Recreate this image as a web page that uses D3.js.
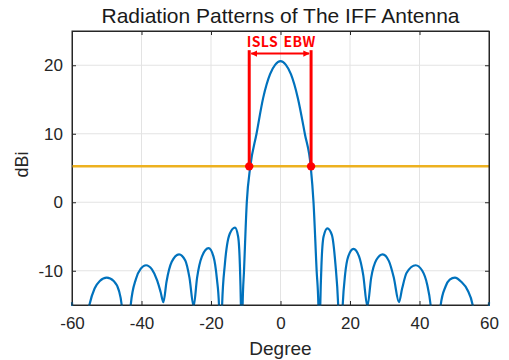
<!DOCTYPE html>
<meta charset="utf-8">
<style type="text/css">
body { margin: 0; background: #fff; }
.grid line { stroke: #e3e3e3; stroke-width: 1; }
.axis text { font-family: "Liberation Sans", Arial, sans-serif; font-size: 17px; fill: #262626; }
.axis path, .axis line { stroke: #262626; }
.pattern { fill: none; stroke: #0072bd; stroke-width: 2.2; }
.thresh { stroke: #edb120; stroke-width: 2.5; }
.ebw { stroke: #ff0000; stroke-width: 3; }
</style>
<body>
</body>
<script src="https://d3js.org/d3.v7.min.js"></script>
<script>

// Radiation pattern (degree, dBi); nulls below the axis get clipped
var degrees = [-60, -58, -55, -53.5, -52, -50, -48, -46.5, -45.7, -44.4,
  -43.1, -41.6, -40.2, -38.7, -37, -35.5, -34.5, -33.7,
  -32.8, -31.3, -29.2, -27.4, -26.2, -25,
  -24, -22.6, -20.7, -19.3, -18.3, -17.7, -17.3,
  -16.8, -16, -14.6, -13.1, -12.2, -11.7, -11.4, -11.15,
  -10.9, -10.5, -9.7, -8.7, -6.9, -5, -3, -1.5, 0,
  1.5, 3, 5, 7, 8.7, 9.5, 10.4, 10.9, 11.15,
  11.45, 11.8, 12.4, 13.5, 14.8, 15.8, 16.6, 17.2,
  17.9, 18.6, 19.5, 21, 22.6, 23.8, 25,
  26.1, 27.6, 29.4, 31.2, 32.6, 34.1,
  35, 36.3, 38.9, 40.8, 42.2, 43.2, 44.6,
  46.1, 47.5, 48.7, 50.2, 52, 53.8, 55.3, 57.6, 59.6, 60];
var dbi = [-14.6, -25, -15, -12.6, -11.5, -11.0, -11.5, -12.9, -15, -25,
  -15, -11.2, -9.7, -9.2, -9.8, -11.4, -13.1, -14.6,
  -11.6, -8.7, -7.6, -8.5, -11, -15.2,
  -11, -7.9, -6.7, -7.9, -11.2, -15, -25,
  -15, -9, -4.6, -3.7, -5, -9, -15, -25,
  -15, -10, 0, 5.2, 10, 15.2, 18.7, 20.1, 20.6,
  20.1, 18.7, 15.2, 10, 5.2, 0, -10, -15, -25,
  -15, -9, -5, -3.8, -4.8, -9, -15, -25,
  -15, -10.5, -7.9, -6.8, -7.9, -10.6, -15.2,
  -11, -8.4, -7.6, -8.6, -11, -14.6,
  -12.6, -10.3, -9.2, -10, -12, -15, -25,
  -15, -12.3, -11.3, -11.0, -11.6, -12.8, -15, -25, -20, -14.6];

var xTicks = [-60, -40, -20, 0, 20, 40, 60];
var yTicks = [-10, 0, 10, 20];
var threshold = 5.24;          // orange level
var ebwEdges = [-9.0, 8.8];    // red marker positions
var ebwTop = 22.2;
var arrowLevel = 21.7;

var margin = {top: 31, right: 20, bottom: 55, left: 72}
  , width = 509 - margin.left - margin.right
  , height = 360 - margin.top - margin.bottom;

var svg = d3.select("body").append("svg")
    .attr("width", 509)
    .attr("height", 360)
  .append("g")
    .attr("transform", "translate(" + margin.left + "," + margin.top + ")");

var xScale = d3.scaleLinear().domain([-60, 60]).range([0, width]);
var yScale = d3.scaleLinear().domain([-15, 25]).range([height, 0]);

var defs = svg.append("defs");
defs.append("clipPath").attr("id", "plotclip")
  .append("rect").attr("x", -2).attr("width", width + 4).attr("height", height + 1);
defs.append("marker").attr("id", "ah")
    .attr("viewBox", "0 0 10 10").attr("refX", 9).attr("refY", 5)
    .attr("markerWidth", 3.2).attr("markerHeight", 3.2)
    .attr("orient", "auto-start-reverse")
  .append("path").attr("d", "M0,0L10,5L0,10z").attr("fill", "#ff0000");

// grid
svg.append("g").attr("class", "grid")
  .selectAll("line").data(xTicks.slice(1, -1)).enter().append("line")
    .attr("x1", function(d) { return xScale(d); }).attr("x2", function(d) { return xScale(d); })
    .attr("y1", 0).attr("y2", height);
svg.append("g").attr("class", "grid")
  .selectAll("line").data(yTicks).enter().append("line")
    .attr("y1", function(d) { return yScale(d); }).attr("y2", function(d) { return yScale(d); })
    .attr("x1", 0).attr("x2", width);

// axes, ticks pointing inward like matlab, plain hyphen minus
var fmt = function(d) { return String(d); };
svg.append("g").attr("class", "axis")
    .attr("transform", "translate(0," + height + ")")
    .call(d3.axisBottom(xScale).tickValues(xTicks).tickFormat(fmt).tickSizeInner(-4).tickSizeOuter(0).tickPadding(12));
svg.append("g").attr("class", "axis")
    .call(d3.axisLeft(yScale).tickValues(yTicks).tickFormat(fmt).tickSizeInner(-4).tickSizeOuter(0).tickPadding(9));
svg.append("g").attr("class", "axis")
    .call(d3.axisTop(xScale).tickValues(xTicks).tickSizeInner(-4).tickSizeOuter(0).tickFormat(""));
svg.append("g").attr("class", "axis")
    .attr("transform", "translate(" + width + ",0)")
    .call(d3.axisRight(yScale).tickValues(yTicks).tickSizeInner(-4).tickSizeOuter(0).tickFormat(""));

var pts = degrees.map(function(d, i) { return {deg: d, val: dbi[i]}; });

var line = d3.line()
    .x(function(d) { return xScale(d.deg); })
    .y(function(d) { return yScale(d.val); })
    .curve(d3.curveMonotoneX);

svg.append("path")
    .datum(pts)
    .attr("class", "pattern")
    .attr("clip-path", "url(#plotclip)")
    .attr("d", line);

// threshold line
svg.append("line").attr("class", "thresh")
    .attr("x1", 0).attr("x2", width)
    .attr("y1", yScale(threshold)).attr("y2", yScale(threshold));

// EBW markers
svg.selectAll(".ebw").data(ebwEdges).enter().append("line")
    .attr("class", "ebw")
    .attr("x1", function(d) { return xScale(d); }).attr("x2", function(d) { return xScale(d); })
    .attr("y1", yScale(threshold)).attr("y2", yScale(ebwTop));
svg.selectAll(".ebwdot").data(ebwEdges).enter().append("circle")
    .attr("cx", function(d) { return xScale(d); })
    .attr("cy", yScale(threshold))
    .attr("r", 4.2).attr("fill", "#ff0000");
svg.append("line")
    .attr("x1", xScale(ebwEdges[0]) + 2).attr("x2", xScale(ebwEdges[1]) - 2)
    .attr("y1", yScale(arrowLevel)).attr("y2", yScale(arrowLevel))
    .attr("stroke", "#ff0000").attr("stroke-width", 2)
    .attr("marker-start", "url(#ah)").attr("marker-end", "url(#ah)");
svg.append("text")
    .attr("x", xScale((ebwEdges[0] + ebwEdges[1]) / 2) + 1)
    .attr("y", 15.5)
    .attr("text-anchor", "middle")
    .style("font-family", "'Noto Sans CJK KR', 'Noto Sans', sans-serif")
    .style("font-weight", "bold")
    .style("font-size", "14px")
    .style("letter-spacing", "0.4px")
    .style("word-spacing", "2px")
    .style("fill", "#ff0000")
    .text("ISLS EBW");

// frame
svg.append("rect").attr("width", width).attr("height", height)
    .attr("fill", "none").attr("stroke", "#262626").attr("stroke-width", 1);

// labels
svg.append("text")
    .attr("x", width / 2).attr("y", -8)
    .attr("text-anchor", "middle")
    .style("font-family", "'Liberation Sans', Arial, sans-serif")
    .style("font-size", "21px").style("fill", "#1a1a1a")
    .text("Radiation Patterns of The IFF Antenna");

svg.append("text")
    .attr("x", width / 2).attr("y", height + 50)
    .attr("text-anchor", "middle")
    .style("font-family", "'Liberation Sans', Arial, sans-serif")
    .style("font-size", "19px").style("fill", "#262626")
    .text("Degree");

svg.append("text")
    .attr("transform", "rotate(-90)")
    .attr("x", -(yScale(5.5))).attr("y", -44)
    .attr("text-anchor", "middle")
    .style("font-family", "'Liberation Sans', Arial, sans-serif")
    .style("font-size", "18px").style("fill", "#262626")
    .text("dBi");

</script>
